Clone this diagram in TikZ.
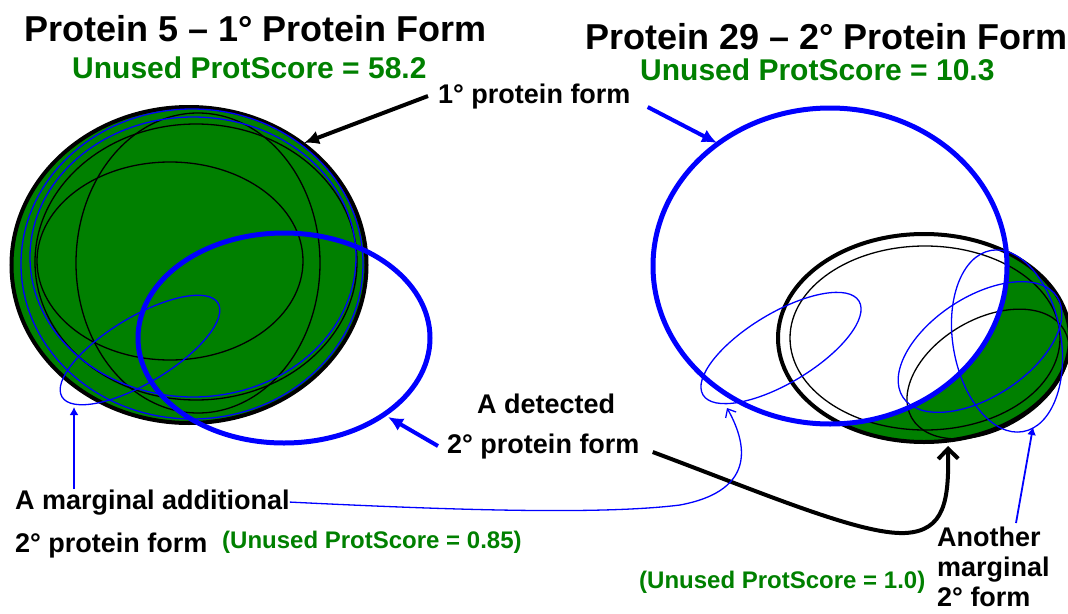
\documentclass[tikz,border=0pt]{standalone}
\usepackage{fontspec}
\setmainfont{Liberation Sans}
\usepackage{xcolor}
\usepackage{tikz}
\usetikzlibrary{arrows.meta}
\definecolor{scoregreen}{RGB}{0, 128, 0}
\definecolor{formblue}{RGB}{0, 0, 255}

\begin{document}
\begin{tikzpicture}[x=1pt, y=-1pt,
		heading/.style={font=\fontsize{36}{40}\selectfont\bfseries, anchor=base west, inner sep=0pt},
		score/.style={font=\fontsize{30}{34}\selectfont\bfseries, text=scoregreen, anchor=base west, inner sep=0pt},
		minorscore/.style={font=\fontsize{24}{28}\selectfont\bfseries, text=scoregreen, anchor=base west, inner sep=0pt},
		callout/.style={font=\fontsize{27}{30}\selectfont\bfseries, anchor=base west, inner sep=0pt},
		rim/.style={line width=4pt},
		bigring/.style={draw=formblue, line width=5pt},
		fineblack/.style={line width=1.3pt},
		fineblue/.style={draw=formblue, line width=1.3pt},
		bigarrow/.style={line width=4pt, -{Latex[length=15pt, width=14pt]}},
		finearrow/.style={draw=formblue, line width=1.8pt, -{Latex[length=8pt, width=9pt]}}]
	
	\useasboundingbox (0,0) rectangle (1068,613);
	
	\filldraw[rim, fill=scoregreen] (189,265) ellipse [x radius=177.5, y radius=158];
	\draw[fineblack] (198,263) ellipse [x radius=122, y radius=150];
	\draw[fineblack] (170,261) ellipse [x radius=133, y radius=99];
	\draw[fineblack] (196,262) ellipse [x radius=161, y radius=138];
	\draw[fineblue] (192,264) ellipse [x radius=171, y radius=155];
	\draw[fineblue] (193,257) ellipse [x radius=163, y radius=140];
	\draw[bigring] (284,338) ellipse [x radius=146, y radius=105];
	\draw[fineblue, rotate around={31:(140,350)}] (140,350) ellipse [x radius=91, y radius=33];
	
	\fill[scoregreen] (924,338) ellipse [x radius=146, y radius=104];
	\fill[white] (830,266) ellipse [x radius=177, y radius=158];
	\draw[fineblack] (925,338) ellipse [x radius=135, y radius=92];
	\draw[fineblack, rotate around={30:(988,374)}] (988,374) ellipse [x radius=88, y radius=55];
	\draw[rim] (924,338) ellipse [x radius=146, y radius=104];
	\draw[fineblue, rotate around={31:(781,348)}] (781,348) ellipse [x radius=91, y radius=35];
	\draw[fineblue, rotate around={33:(980,347)}] (980,347) ellipse [x radius=92, y radius=50];
	\draw[fineblue, rotate around={10:(1007,341)}] (1007,341) ellipse [x radius=54, y radius=92];
	\draw[bigring] (830,266) ellipse [x radius=177, y radius=158];
	
	\coordinate (rim5) at (304,143);
	\coordinate (rim29) at (717,143);
	\coordinate (det5) at (388,417);
	\coordinate (low29) at (948,446);
	\coordinate (marg5) at (74,407);
	\coordinate (marg29) at (727,408);
	\coordinate (marg29b) at (1033,427);
	
	\node[heading] (t5) at (24,41) {Protein 5 – 1° Protein Form};
	\node[heading] (t29) at (585,49) {Protein 29 – 2° Protein Form};
	\node[score] (s5) at (72,78) {Unused ProtScore = 58.2};
	\node[score] (s29) at (640,80) {Unused ProtScore = 10.3};
	\node[callout] (pf1) at (438,103) {1° protein form};
	\node[callout] (det1) at (477,413) {A detected};
	\node[callout] (det2) at (447,453) {2° protein form};
	\node[callout] (marg1) at (15,509) {A marginal additional};
	\node[callout] (marg2) at (15,552) {2° protein form};
	\node[minorscore] (s085) at (222,548) {(Unused ProtScore = 0.85)};
	\node[minorscore] (s10) at (639,588) {(Unused ProtScore = 1.0)};
	\node[callout, align=left, anchor=north west] (anoth) at (937,527) {Another\\marginal\\2° form};
	
	\draw[bigarrow] ([xshift=-10pt]pf1.west) -- (rim5);
	\draw[bigarrow, formblue] ([xshift=17pt, yshift=-11pt]pf1.east) -- (rim29);
	\draw[bigarrow, formblue] ([xshift=-9pt]det2.west) -- (det5);
	\draw[line width=4pt, -{Straight Barb[length=10pt, width=20pt]}] ([xshift=13pt, yshift=-6pt]det2.east)
		.. controls (760,492) and (860,535) .. (905,533)
		.. controls (945,531) and (949,500) .. (low29);
	\draw[finearrow] ([xshift=59pt]marg1.north west) -- (marg5);
	\draw[fineblue, -{Straight Barb[length=7pt, width=12pt]}] (marg1.east)
		.. controls (450,510) and (600,515) .. (680,505)
		.. controls (760,490) and (745,440) .. (marg29);
	\draw[finearrow] ([xshift=79pt, yshift=4pt]anoth.north west) -- (marg29b);
\end{tikzpicture}
\end{document}
